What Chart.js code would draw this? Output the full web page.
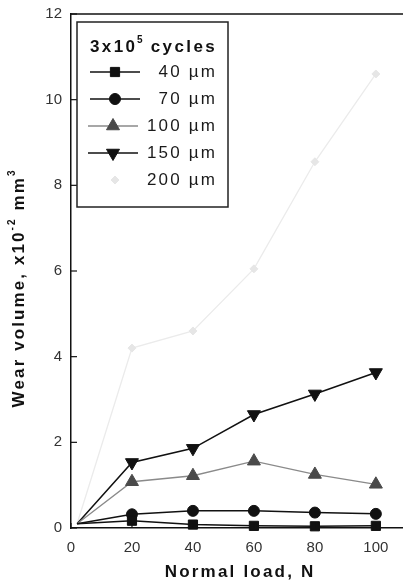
<!DOCTYPE html>
<html>
<head>
<meta charset="utf-8">
<script src="https://cdn.jsdelivr.net/npm/chart.js@4.4.0/dist/chart.umd.min.js"></script>
<style>
html,body{margin:0;padding:0;background:#fff;}
#wrap{position:relative;width:403px;height:583px;}
</style>
</head>
<body>
<div id="wrap"><canvas id="c" width="403" height="583"></canvas></div>
<script>
// ---- data ----
const loads = [2, 20, 40, 60, 80, 100];
const s40 = [0.1, 0.17, 0.08, 0.05, 0.04, 0.05];
const s70 = [0.1, 0.32, 0.40, 0.40, 0.36, 0.33];
const s100 = [0.1, 1.08, 1.22, 1.56, 1.25, 1.02];
const s150 = [0.1, 1.53, 1.86, 2.65, 3.13, 3.63];
const s200 = [0.1, 4.20, 4.60, 6.05, 8.55, 10.60];
const seriesLabels = ['40 \u00b5m', '70 \u00b5m', '100 \u00b5m', '150 \u00b5m', '200 \u00b5m'];
const xTicks = [0, 20, 40, 60, 80, 100];
const yTicks = [0, 2, 4, 6, 8, 10, 12];

function pts(arr){ return arr.map((v,i)=>({x:loads[i], y:v})); }
function radiusFn(r){ return ctx => ctx.dataIndex === 0 ? 0 : r; }

const datasets = [
  {label:seriesLabels[0], data:pts(s40), borderColor:'#111', backgroundColor:'#111', borderWidth:1.5, pointStyle:'rect', pointRadius:radiusFn(6.5), order:1},
  {label:seriesLabels[1], data:pts(s70), borderColor:'#111', backgroundColor:'#111', borderWidth:1.5, pointStyle:'circle', pointRadius:radiusFn(5.5), order:2},
  {label:seriesLabels[2], data:pts(s100), borderColor:'#8a8a8a', backgroundColor:'#4a4a4a', borderWidth:1.3, pointStyle:'triangle', pointRadius:radiusFn(7.5), order:3},
  {label:seriesLabels[3], data:pts(s150), borderColor:'#111', backgroundColor:'#111', borderWidth:1.5, pointStyle:'triangle', pointRotation:180, pointRadius:radiusFn(7.5), order:4},
  {label:seriesLabels[4], data:pts(s200), borderColor:'#ebebeb', backgroundColor:'#e6e6e6', borderWidth:1.3, pointStyle:'rectRot', pointRadius:radiusFn(4), order:5}
];
datasets.forEach(d=>{ d.pointBorderColor = d.backgroundColor; d.pointBorderWidth = 1; d.fill=false; d.tension=0; d.clip=false; });

function spacedText(ctx, text, x, y, spacing){
  let cx = x;
  for (const ch of text){
    ctx.fillText(ch, cx, y);
    cx += ctx.measureText(ch).width + spacing;
  }
  return cx - x - spacing;
}
function spacedWidth(ctx, text, spacing){
  let w = 0;
  for (const ch of text){ w += ctx.measureText(ch).width + spacing; }
  return w - spacing;
}

const decor = {
  id:'decor',
  afterDatasetsDraw(chart){
    const {ctx, chartArea:a, scales} = chart;
    ctx.save();
    ctx.strokeStyle = '#111'; ctx.lineWidth = 1.5;
    ctx.beginPath(); ctx.moveTo(a.left, a.top); ctx.lineTo(a.right, a.top); ctx.stroke();
    ctx.lineWidth = 1.2;
    yTicks.forEach(v=>{
      const y = scales.y.getPixelForValue(v);
      ctx.beginPath(); ctx.moveTo(a.left, y); ctx.lineTo(a.left+6, y); ctx.stroke();
    });
    xTicks.forEach(v=>{
      const x = scales.x.getPixelForValue(v);
      ctx.beginPath(); ctx.moveTo(x, a.bottom); ctx.lineTo(x, a.bottom-5); ctx.stroke();
    });

    const bx = 77, by = 22, bw = 151, bh = 185;
    ctx.fillStyle = '#fff';
    ctx.fillRect(bx, by, bw, bh);
    ctx.strokeStyle = '#222'; ctx.lineWidth = 1.5;
    ctx.strokeRect(bx, by, bw, bh);
    ctx.fillStyle = '#111';
    ctx.textBaseline = 'middle'; ctx.textAlign = 'left';
    ctx.font = 'bold 17px "Liberation Sans", Arial, sans-serif';
    let tx = 90, ty = 47;
    tx += spacedText(ctx, '3x10', tx, ty, 2.4) + 2;
    ctx.font = 'bold 10px "Liberation Sans", Arial, sans-serif';
    tx += spacedText(ctx, '5', tx, ty-7, 0) + 1;
    ctx.font = 'bold 17px "Liberation Sans", Arial, sans-serif';
    spacedText(ctx, ' cycles', tx, ty, 2.4);
    const rowY = [72, 99, 126, 153, 180];
    datasets.forEach((d,i)=>{
      const y = rowY[i];
      if (i !== 4){
        ctx.strokeStyle = d.borderColor; ctx.lineWidth = d.borderWidth;
        ctx.beginPath(); ctx.moveTo(i===2||i===3?88:90, y); ctx.lineTo(i===2||i===3?138:140, y); ctx.stroke();
      }
      ctx.fillStyle = d.backgroundColor; ctx.strokeStyle = d.backgroundColor; ctx.lineWidth = 1;
      Chart.helpers.drawPoint(ctx, {pointStyle:d.pointStyle, rotation:d.pointRotation||0, radius:(i===0?6.5:i===1?5.5:i===4?4:7.5), borderWidth:1}, (i===2||i===3)?113:115, y);
      ctx.fillStyle = '#1a1a1a';
      ctx.font = '17px "Liberation Sans", Arial, sans-serif';
      const w = spacedWidth(ctx, d.label, 2.2);
      spacedText(ctx, d.label, 215 - w, y, 2.2);
    });

    ctx.fillStyle = '#111';
    ctx.font = 'bold 17px "Liberation Sans", Arial, sans-serif';
    const xt = 'Normal load, N';
    const xw = spacedWidth(ctx, xt, 2.2);
    spacedText(ctx, xt, 239 - xw/2, 572, 2.2);

    ctx.translate(19, 288);
    ctx.rotate(-Math.PI/2);
    const f1 = 'bold 17px "Liberation Sans", Arial, sans-serif';
    const f2 = 'bold 10px "Liberation Sans", Arial, sans-serif';
    const parts = [['Wear volume, x10', f1, 0], ['-2', f2, -7], [' mm', f1, 0], ['3', f2, -7]];
    let total = 0;
    parts.forEach(p=>{ ctx.font = p[1]; total += spacedWidth(ctx, p[0], 2.1) + 2.1; });
    let px = -total/2;
    parts.forEach(p=>{ ctx.font = p[1]; px += spacedText(ctx, p[0], px, p[2], 2.1) + 2.1; });
    ctx.restore();
  }
};

new Chart(document.getElementById('c'), {
  type:'line',
  data:{datasets},
  options:{
    responsive:false,
    animation:false,
    layout:{autoPadding:false, padding:{top:14, right:0, left:0, bottom:0}},
    plugins:{legend:{display:false}, tooltip:{enabled:false}},
    scales:{
      x:{
        type:'linear', min:0, max:108.9,
        afterBuildTicks: s => { s.ticks = xTicks.map(v=>({value:v})); },
        afterFit: s => { s.height = 55; s.paddingLeft = 0; s.paddingRight = 0; },
        grid:{display:false, drawTicks:false},
        border:{display:true, color:'#111', width:1.5},
        ticks:{font:{size:15, family:'"Liberation Sans", Arial, sans-serif'}, color:'#333', padding:11, maxRotation:0}
      },
      y:{
        type:'linear', min:0, max:12,
        afterBuildTicks: s => { s.ticks = yTicks.map(v=>({value:v})); },
        afterFit: s => { s.width = 71; s.paddingTop = 0; s.paddingBottom = 0; },
        grid:{display:false, drawTicks:false},
        border:{display:true, color:'#111', width:1.5},
        ticks:{font:{size:15, family:'"Liberation Sans", Arial, sans-serif'}, color:'#333', padding:9}
      }
    }
  },
  plugins:[decor]
});
</script>
</body>
</html>
